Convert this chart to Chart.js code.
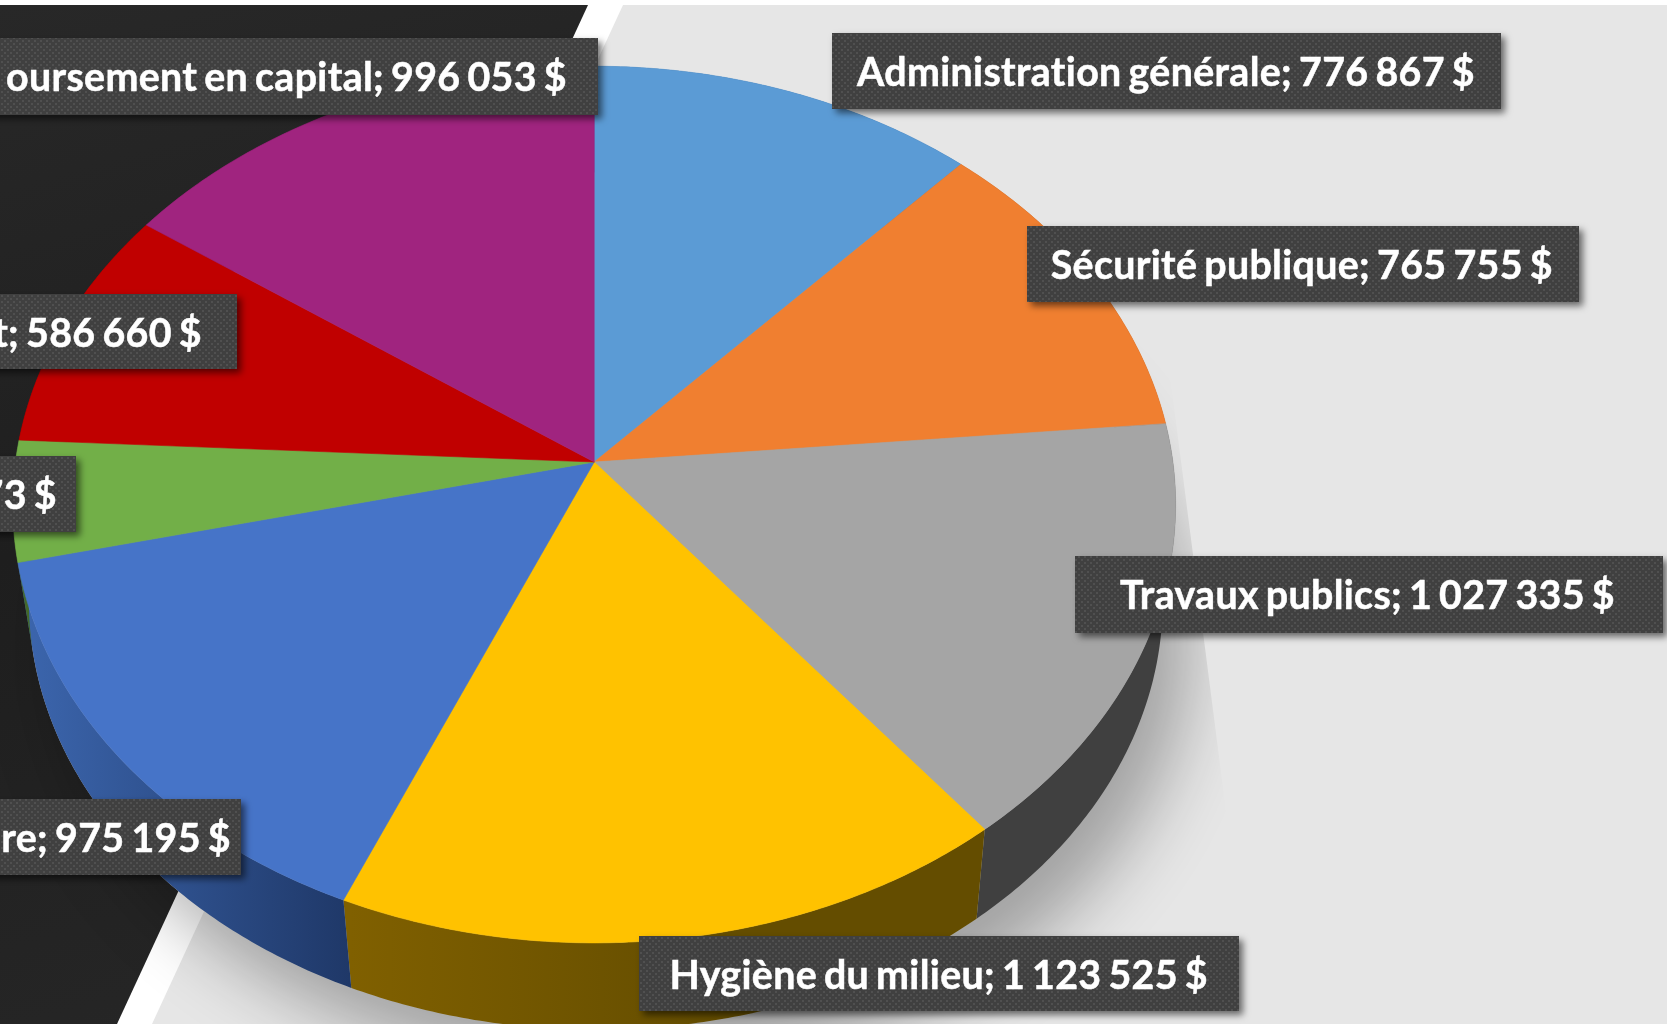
<!DOCTYPE html>
<html lang="fr">
<head>
<meta charset="utf-8">
<title>Dépenses</title>
<script src="https://cdn.jsdelivr.net/npm/chart.js@4/dist/chart.umd.js"></script>
<style>
html,body{margin:0;padding:0;background:#e6e6e6;overflow:hidden}
#wrap{width:1667px;height:1024px;position:relative}
canvas{display:block}
</style>
</head>
<body>
<div id="wrap"><canvas id="c" width="1667" height="1024"></canvas></div>
<script>
// Data
const categories = ["Administration générale","Sécurité publique","Travaux publics","Hygiène du milieu","Loisirs et culture","Autres","Transport","Remboursement en capital"];
const values = [776867,765755,1027335,1123525,975195,290773,586660,996053];
const sliceColors = ["#5B9BD5","#F07F30","#A5A5A5","#FFC200","#4674C8","#72AF48","#C00000","#A0247F"];
const sideStart = ["#2f5f8a","#8f4a1c","#404040","#806000","#3C66AE","#43682a","#730000","#60164c"];
const sideEnd = ["#2f5f8a","#8f4a1c","#404040","#644d00","#1F3868","#43682a","#730000","#60164c"];
// Visible label text (the slide crops the left ones)
const labelTexts = ["Administration générale; 776 867 $","Sécurité publique; 765 755 $","Travaux publics; 1 027 335 $","Hygiène du milieu; 1 123 525 $","ure; 975 195 $","73 $","t; 586 660 $","oursement en capital; 996 053 $"];

// Layout (label boxes: left, top, right, bottom, text right end)
const labelBoxes = [[832,33,1501,109,1475],[1027,226,1579,302,1553],[1075,556,1663,633,1615],[639,936,1239,1011,1208],[-20,799,241,875,231],[-20,456,76,532,57],[-20,294,237,369,202],[-20,38,598,115,567]];
const P = {cx:594.2, cy:462, kx:578.7, ky:434.2, p:-0.0971, depth:97.5, shrinkX:0.975, shrinkY:0.978, shiftX:1.6};

function project(a, level){
  const u=Math.cos(a), v=Math.sin(a), w=1+P.p*v;
  const sx=level?P.shrinkX:1, sy=level?P.shrinkY:1, dx=level?P.shiftX:0, dy=level?P.depth:0;
  return [P.cx+dx+sx*P.kx*u/w, P.cy+dy+sy*P.ky*v/w];
}
function rim(ctx,a0,a1,level,first){
  const n=Math.max(2,Math.ceil(Math.abs(a1-a0)/0.01));
  for(let i=0;i<=n;i++){
    const p=project(a0+(a1-a0)*i/n,level);
    if(i===0&&first) ctx.moveTo(p[0],p[1]); else ctx.lineTo(p[0],p[1]);
  }
}
function makeDots(){
  const c=document.createElement('canvas');c.width=6;c.height=6;
  const x=c.getContext('2d');
  x.fillStyle='#404040';x.fillRect(0,0,6,6);
  x.fillStyle='#505050';x.fillRect(1,1,2,2);x.fillRect(4,4,2,2);
  return c;
}
const perspectivePie={
  id:'perspectivePie',
  beforeDraw(chart){
    const ctx=chart.ctx;
    ctx.save();
    ctx.fillStyle='#ffffff';ctx.fillRect(0,0,1667,1024);
    ctx.fillStyle='#E6E6E6';
    ctx.beginPath();ctx.moveTo(623,5);ctx.lineTo(1667,5);ctx.lineTo(1667,1024);ctx.lineTo(152,1024);ctx.closePath();ctx.fill();
    const g=ctx.createLinearGradient(0,5,300,1024);
    g.addColorStop(0,'#282828');g.addColorStop(.5,'#1f1f1f');g.addColorStop(1,'#262626');
    ctx.fillStyle=g;
    ctx.beginPath();ctx.moveTo(0,5);ctx.lineTo(588,5);ctx.lineTo(117,1024);ctx.lineTo(0,1024);ctx.closePath();ctx.fill();
    ctx.restore();
  },
  beforeDatasetDraw(chart,args){
    const ctx=chart.ctx, arcs=chart.getDatasetMeta(args.index).data;
    // cast shadow
    ctx.save();
    ctx.beginPath();ctx.moveTo(1150,0);ctx.lineTo(1168,360);ctx.lineTo(1240,920);ctx.lineTo(1667,920);ctx.lineTo(1667,1024);ctx.lineTo(0,1024);ctx.lineTo(0,0);ctx.closePath();ctx.clip();
    ctx.shadowColor='rgba(0,0,0,0.3)';ctx.shadowBlur=70;ctx.shadowOffsetX=26;ctx.shadowOffsetY=42;
    ctx.fillStyle='#b4b4b4';
    ctx.beginPath();rim(ctx,0,Math.PI*2,1,true);ctx.closePath();ctx.fill();
    ctx.restore();
    // sides
    arcs.forEach((el,i)=>{
      const a0=el.startAngle,a1=el.endAngle;
      const g=ctx.createLinearGradient(20,0,350,0);
      g.addColorStop(0,sideStart[i]);g.addColorStop(1,sideEnd[i]);
      if(i===3){const h=ctx.createLinearGradient(350,0,720,0);h.addColorStop(0,sideStart[i]);h.addColorStop(1,sideEnd[i]);ctx.fillStyle=h;}
      else ctx.fillStyle=g;
      ctx.beginPath();rim(ctx,a0,a1,0,true);rim(ctx,a1,a0,1,false);ctx.closePath();ctx.fill();
    });
    // top faces
    arcs.forEach((el,i)=>{
      ctx.fillStyle=sliceColors[i];ctx.strokeStyle=sliceColors[i];ctx.lineWidth=.6;
      ctx.beginPath();ctx.moveTo(P.cx,P.cy);rim(ctx,el.startAngle,el.endAngle,0,false);ctx.closePath();ctx.fill();ctx.stroke();
    });
    return false;
  },
  afterDraw(chart){
    const ctx=chart.ctx;
    const pat=ctx.createPattern(makeDots(),'repeat');
    ctx.save();
    ctx.font='700 39.5px Lato';
    ctx.letterSpacing='0.35px';
    ctx.wordSpacing='-3px';
    const squeeze=618/ctx.measureText(labelTexts[0]).width;
    labelTexts.forEach((t,i)=>{
      const b=labelBoxes[i];
      ctx.save();
      ctx.shadowColor='rgba(0,0,0,.55)';ctx.shadowBlur=7;ctx.shadowOffsetX=4;ctx.shadowOffsetY=4;
      ctx.fillStyle=pat;ctx.fillRect(b[0],b[1],b[2]-b[0],b[3]-b[1]);
      ctx.restore();
      ctx.fillStyle='#ffffff';ctx.strokeStyle='#ffffff';ctx.lineWidth=.5;ctx.textAlign='right';ctx.textBaseline='alphabetic';
      const w=ctx.measureText(t).width*Math.min(1,squeeze);
      ctx.fillText(t,b[4],b[1]+53,w);
      ctx.strokeText(t,b[4],b[1]+53,w);
    });
    ctx.restore();
  }
};
new Chart(document.getElementById('c'),{
  type:'pie',
  data:{labels:categories,datasets:[{data:values,backgroundColor:sliceColors,borderWidth:0}]},
  options:{responsive:false,animation:false,maintainAspectRatio:false,
    plugins:{legend:{display:false},tooltip:{enabled:false}},events:[]},
  plugins:[perspectivePie]
});
</script>
</body>
</html>
